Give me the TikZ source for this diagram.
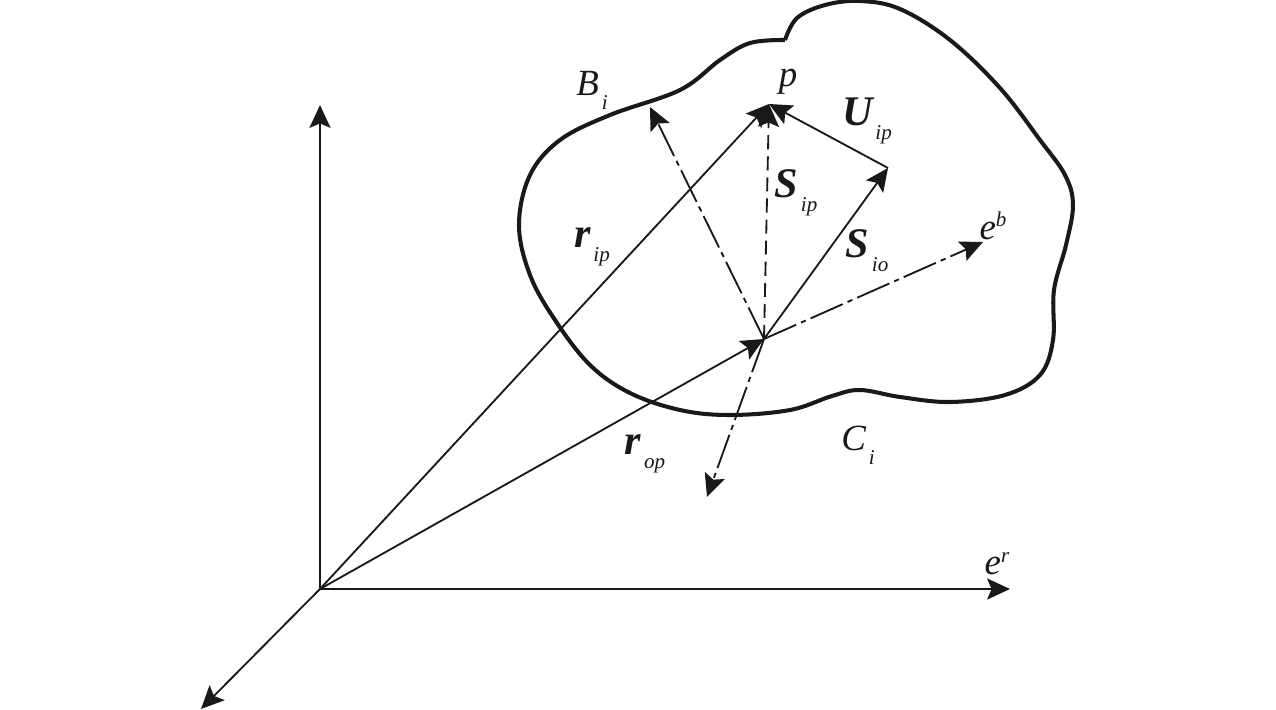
\documentclass[tikz,border=0pt]{standalone}
\usepackage{fontspec}
\setmainfont{Liberation Serif}
\usetikzlibrary{arrows.meta}
\newcommand{\reglbl}[2]{{\fontsize{21}{24}\selectfont\itshape #1}\,\raisebox{-8pt}{\fontsize{12}{14}\selectfont\itshape #2}}
\newcommand{\boldlbl}[2]{{\fontsize{24}{28}\selectfont\bfseries\itshape #1}\,\raisebox{-8pt}{\fontsize{12}{14}\selectfont\itshape #2}}
\tikzset{
  vec/.style={draw=black!90,line width=1.05pt,-{Stealth[length=13pt,width=12pt,inset=2.5pt]}},
  dashvec/.style={vec,dash pattern=on 8pt off 4pt},
  dotvec/.style={vec,dash pattern=on 20pt off 3pt on 3pt off 3pt},
  outline/.style={draw=black!90,line width=2.3pt,line join=round},
  lab/.style={inner sep=0pt,text=black!90}
}
\begin{document}
\begin{tikzpicture}[x=0.02cm,y=-0.02cm]
\useasboundingbox (0,0) rectangle (1276,710);
\draw[outline] plot[smooth,tension=0.6] coordinates {(785,40) (797,18) (825,5) (860,1) (900,9) (950,40) (1000,88) (1040,140) (1065,175) (1073,205) (1066,245) (1054,290) (1053,340) (1040,375) (1005,395) (950,402) (900,397) (860,390) (832,396) (790,410) (730,415) (680,410) (630,393) (590,365) (555,320) (530,275) (519,225) (530,175) (560,140) (610,115) (680,90) (720,60) (750,43) (785,40)};
\coordinate (O) at (320,589);
\coordinate (Yend) at (320,105);
\coordinate (Xend) at (1010,589);
\coordinate (Zend) at (201,709);
\coordinate (P) at (769,104);
\coordinate (C) at (764,339);
\coordinate (Q) at (888,168);
\coordinate (A) at (650,107);
\coordinate (Eb) at (983,242);
\coordinate (D) at (707,497);
\draw[vec] (O) -- (Yend);
\draw[vec] (O) -- (Xend);
\draw[vec] (O) -- (Zend);
\draw[vec] (O) -- (P);
\draw[vec] (O) -- (C);
\draw[vec] (C) -- (Q);
\draw[vec] (Q) -- (P);
\draw[dashvec] (C) -- (P);
\draw[dotvec] (C) -- (A);
\draw[dotvec] (C) -- (Eb);
\draw[dotvec] (C) -- (D);
\node[lab] (lbi) at (592,90) {\reglbl{B}{i}};
\node[lab] (lp) at (788,82) {\fontsize{21}{24}\selectfont\itshape p};
\node[lab] (luip) at (867,121) {\boldlbl{U}{ip}};
\node[lab] (lsip) at (796,193) {\boldlbl{S}{ip}};
\node[lab] (lsio) at (867,251) {\boldlbl{S}{io}};
\node[lab] (lrip) at (592,247) {\boldlbl{r}{ip}};
\node[lab] (lrop) at (645,454) {\boldlbl{r}{op}};
\node[lab] (lci) at (858,445) {\reglbl{C}{i}};
\node[lab] (leb) at (993,226) {{\fontsize{21}{24}\selectfont\itshape e}\raisebox{7pt}{\fontsize{12}{14}\selectfont\itshape b}};
\node[lab] (ler) at (997,564) {{\fontsize{21}{24}\selectfont\itshape e}\raisebox{7pt}{\fontsize{12}{14}\selectfont\itshape r}};
\end{tikzpicture}
\end{document}
